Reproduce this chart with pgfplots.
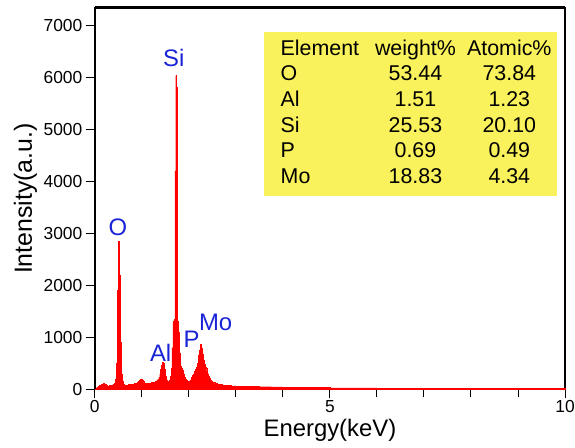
\documentclass[border=0pt]{standalone}
\usepackage{pgfplots}
\pgfplotsset{compat=1.18}
\usepackage{array}
\usepackage{fontspec}
\setmainfont{Liberation Sans}
\definecolor{specred}{RGB}{255,0,0}
\definecolor{lblblue}{RGB}{25,35,215}
\definecolor{tabyellow}{RGB}{250,242,92}

\begin{document}
\begin{tikzpicture}
\useasboundingbox (-95bp,-58bp) rectangle (481bp,390bp);
\begin{axis}[
  scale only axis, width=471bp, height=382bp,
  xmin=0, xmax=10, ymin=0, ymax=7330,
  clip=false,
  axis line style={line width=1.5bp, black},
  tick pos=left, tick align=outside,
  xtick={0,5,10}, minor xtick={1,2,3,4,6,7,8,9},
  ytick={0,1000,...,7000},
  major tick length=9bp, minor tick length=8bp,
  tick style={black, line width=1bp},
  scaled y ticks=false,
  /pgf/number format/assume math mode=true,
  /pgf/number format/set thousands separator={},
  ticklabel style={font=\fontsize{17.5}{19}\selectfont},
  xticklabel style={yshift=1bp},
  xlabel={Energy(keV)}, ylabel={Intensity(a.u.)},
  every axis x label/.style={at={(axis description cs:0.5,0)}, anchor=base,
    yshift=-47.5bp, font=\fontsize{24}{26}\selectfont},
  every axis y label/.style={at={(axis description cs:0,0.5)}, rotate=90,
    anchor=base, yshift=63bp, font=\fontsize{25}{27}\selectfont},
]
\addplot[const plot, draw=specred, fill=specred, line width=0.4bp] coordinates {
(0.00,0) (0.02,20) (0.04,40) (0.06,50) (0.08,60) (0.10,80) (0.12,70) (0.14,90)
(0.16,100) (0.18,110) (0.20,100) (0.22,90) (0.24,70) (0.26,60) (0.28,60) (0.30,70)
(0.32,60) (0.34,70) (0.36,80) (0.38,90) (0.40,100) (0.42,120) (0.44,200) (0.46,500)
(0.48,1900) (0.50,2850) (0.52,2200) (0.54,900) (0.56,300) (0.58,150) (0.60,90)
(0.62,80) (0.64,70) (0.66,70) (0.68,80) (0.70,80) (0.72,90) (0.74,80) (0.76,90)
(0.78,90) (0.80,100) (0.82,100) (0.84,110) (0.86,110) (0.88,120) (0.90,130)
(0.92,150) (0.94,170) (0.96,190) (0.98,200) (1.00,180) (1.02,150) (1.04,130)
(1.06,120) (1.08,110) (1.10,110) (1.12,120) (1.14,110) (1.16,120) (1.18,120)
(1.20,130) (1.22,120) (1.24,130) (1.26,140) (1.28,150) (1.30,160) (1.32,180)
(1.34,200) (1.36,230) (1.38,290) (1.40,380) (1.42,470) (1.44,520) (1.46,500)
(1.48,380) (1.50,250) (1.52,170) (1.54,150) (1.56,150) (1.58,180) (1.60,250)
(1.62,400) (1.64,800) (1.66,1300) (1.68,1340) (1.70,4200) (1.72,6030) (1.74,5800)
(1.76,1300) (1.78,1100) (1.80,700) (1.82,450) (1.84,400) (1.86,370) (1.88,300)
(1.90,230) (1.92,190) (1.94,170) (1.96,160) (1.98,150) (2.00,160) (2.02,170)
(2.04,200) (2.06,230) (2.08,270) (2.10,300) (2.12,350) (2.14,380) (2.16,420)
(2.18,500) (2.20,650) (2.22,750) (2.24,860) (2.26,800) (2.28,680) (2.30,560)
(2.32,480) (2.34,430) (2.36,400) (2.38,350) (2.40,300) (2.42,260) (2.44,220)
(2.46,180) (2.48,160) (2.50,130) (2.55,110) (2.60,100) (2.65,90) (2.70,80)
(2.80,70) (2.90,65) (3.00,60) (3.25,55) (3.50,50) (3.75,45) (4.00,40) (4.25,38)
(4.50,35) (4.75,35) (5.00,30) (5.25,30) (5.50,28) (5.75,28) (6.00,25) (6.50,25)
(7.00,22) (7.50,22) (8.00,20) (8.50,20) (9.00,20) (9.50,22) (9.80,15) (10.00,0)
} \closedcycle;

% peak labels
\begin{scope}[every node/.style={text=lblblue, font=\fontsize{24}{26}\selectfont, inner sep=0}]
\node at (axis cs:1.68,6370) {Si};
\node at (axis cs:0.49,3110) {O};
\node at (axis cs:1.40,710) {Al};
\node at (axis cs:2.06,960) {P};
\node at (axis cs:2.57,1290) {Mo};
\end{scope}

% composition table
\node[fill=tabyellow, anchor=north west, inner xsep=0, inner ysep=5bp,
      font=\fontsize{21.5}{24}\selectfont] at (axis cs:3.588,6866) {%
  \renewcommand{\arraystretch}{1.075}%
  \begin{tabular}{@{\hspace{17bp}}p{93bp}@{}w{c}{84bp}@{}w{c}{104bp}@{\hspace{-4bp}}}
  Element & weight\% & Atomic\% \\
  O  & 53.44 & 73.84 \\
  Al & 1.51  & 1.23 \\
  Si & 25.53 & 20.10 \\
  P  & 0.69  & 0.49 \\
  Mo & 18.83 & 4.34 \\
  \end{tabular}};
\draw[line width=3bp] (rel axis cs:0,1) -- (rel axis cs:1,1);
\end{axis}
\end{tikzpicture}
\end{document}
